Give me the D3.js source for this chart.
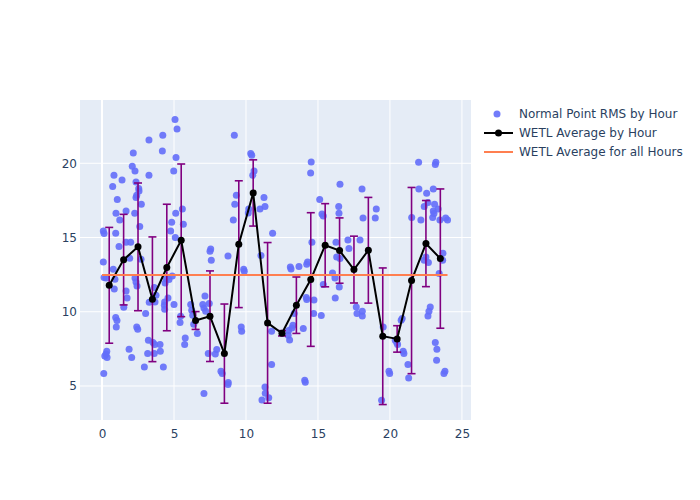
<!DOCTYPE html>
<html>
<head>
<meta charset="utf-8">
<script src="https://cdn.jsdelivr.net/npm/d3@7"></script>
<style>
  body { margin: 0; background: #fff; }
  text { font-family: "DejaVu Sans", Verdana, Arial, sans-serif; }
</style>
</head>
<body>
<div id="chart"></div>
<script>
// Normal point RMS, one entry per pass (hour of day, value)
var rmsHour = [
  0.09,0.14,0.83,0.74,0.97,0.95,0.09,0.78,0.14,0.28,0.90,0.85,0.95,0.99,0.33,0.28,0.19,0.35,0.12,
  1.06,1.39,1.23,1.67,1.18,1.67,1.99,1.92,1.67,1.74,1.51,1.04,1.88,
  2.17,2.10,2.29,2.36,2.55,2.57,2.41,2.36,2.73,2.27,2.62,2.71,2.29,2.36,2.43,2.41,2.48,2.06,2.94,
  3.26,3.26,3.03,3.22,3.54,3.66,3.17,3.63,3.28,3.68,3.63,3.75,
  4.22,4.19,4.84,4.77,4.03,4.05,4.26,4.47,4.38,4.65,4.88,4.58,4.35,4.33,4.35,5.00,4.98,
  5.07,5.21,5.14,5.12,5.09,5.58,5.65,5.42,5.78,5.74,5.46,
  6.16,6.23,6.30,6.37,6.62,
  7.15,7.08,7.20,7.45,7.00,7.38,7.08,7.59,7.55,7.50,7.97,7.87,
  8.26,8.35,8.77,8.75,8.75,
  9.19,9.33,9.22,9.12,9.84,9.88,9.67,9.70,
  10.33,10.40,10.56,10.47,10.19,10.16,10.97,
  11.25,11.32,11.04,11.85,11.78,11.78,11.32,11.34,11.58,11.11,
  12.93,12.96,
  13.08,13.13,13.68,13.19,13.26,13.03,13.98,13.35,
  14.28,14.22,14.53,14.49,14.19,14.22,14.72,14.70,14.08,14.12,14.58,
  15.12,15.28,15.37,15.37,15.23,
  16.53,16.44,16.46,16.25,16.30,16.53,16.01,16.18,16.48,16.20,
  17.08,17.15,17.92,17.66,17.71,
  18.06,18.13,18.98,18.08,18.08,
  19.05,19.53,19.93,19.98,19.42,
  20.37,20.47,20.53,20.85,20.78,20.92,20.97,
  21.25,21.30,21.51,21.99,
  22.01,22.15,22.55,22.38,22.64,22.38,22.67,22.50,22.80,22.71,22.64,22.97,
  23.19,23.15,23.01,23.10,23.01,23.06,23.35,23.47,23.87,24.00,23.68,23.66,23.42,23.15,23.26,23.24,23.82,23.75
];
var rmsValue = [
  15.44,15.27,19.19,18.43,16.63,15.29,13.35,12.86,12.30,12.28,12.19,11.54,9.61,8.98,7.34,7.16,7.02,6.92,5.84,
  17.56,18.88,16.18,16.79,14.39,14.68,14.68,13.60,11.40,10.93,10.30,9.41,7.47,
  20.69,19.80,19.48,18.74,18.30,18.13,17.85,17.69,17.24,16.63,15.74,13.54,12.28,12.01,11.74,8.98,8.82,6.92,6.28,
  21.57,19.19,9.88,8.08,7.93,7.79,7.19,7.19,10.64,10.66,11.63,11.11,
  21.89,20.83,16.03,15.44,7.79,7.34,6.28,12.21,11.94,12.17,12.41,10.93,10.66,10.44,10.17,10.48,19.48,
  22.94,22.31,20.38,16.63,15.00,16.92,15.89,9.27,8.24,7.79,9.70,
  10.48,10.10,9.76,9.16,8.53,
  11.06,10.26,10.03,10.55,10.48,7.19,4.49,13.47,14.23,14.07,7.45,7.16,
  5.99,5.84,5.23,5.10,13.76,
  21.89,17.85,17.24,16.18,12.86,12.73,8.98,8.69,
  20.65,20.54,19.48,19.19,16.92,16.65,16.92,
  17.69,17.08,13.78,15.29,8.69,6.44,4.94,4.51,4.20,4.06,
  8.42,8.73,
  13.02,12.88,13.04,8.91,9.09,8.10,8.87,9.88,
  13.35,13.20,20.09,19.35,10.96,10.82,10.79,9.88,5.39,5.25,14.68,
  17.56,16.59,16.45,11.83,9.74,
  18.59,17.08,16.63,14.68,13.69,13.58,12.61,12.28,11.67,10.93,
  14.83,14.26,14.83,10.32,9.88,
  18.27,16.32,16.32,10.03,9.72,
  16.92,8.98,5.99,5.84,4.04,
  8.08,7.93,7.79,9.54,9.43,7.34,7.19,
  6.44,5.54,16.34,20.07,
  18.27,16.18,17.98,17.08,17.35,13.47,13.31,13.69,10.32,10.03,9.72,16.34,
  20.07,19.91,18.27,17.24,16.79,16.61,16.92,16.18,16.32,16.18,13.94,13.47,12.57,7.93,7.47,6.73,5.99,5.84
];

// WETL average by hour with its spread
var avgHour = [0.5,1.5,2.5,3.5,4.5,5.5,6.5,7.5,8.5,9.5,10.5,11.5,12.5,13.5,14.5,15.5,16.5,17.5,18.5,19.5,20.5,21.5,22.5,23.5];
var avgValue = [11.78,13.51,14.37,10.84,12.98,14.81,9.41,9.70,7.18,14.55,18.00,9.25,8.55,10.44,12.17,14.48,14.12,12.84,14.14,8.35,8.17,12.10,14.59,13.58];
var avgStd = [3.90,3.05,4.30,4.20,4.26,5.14,0.60,3.05,3.34,4.27,2.23,5.41,0.18,1.90,4.50,2.80,2.20,2.25,3.56,4.60,0.89,6.27,2.90,4.69];

// average for all hours
var allHours = [0, 24];
var allAvg = 12.48;

var xTicks = [0, 5, 10, 15, 20, 25];
var yTicks = [5, 10, 15, 20];
var legendNames = ["Normal Point RMS by Hour", "WETL Average by Hour", "WETL Average for all Hours"];

var W = 700, H = 500;
var plot = {left: 80, right: 471, top: 100, bottom: 420};

var svg = d3.select("#chart").append("svg")
  .attr("width", W)
  .attr("height", H);

svg.append("rect").attr("width", W).attr("height", H).attr("fill", "#fff");

var x = d3.scaleLinear().domain([-1.53, 25.63]).range([plot.left, plot.right]);
var y = d3.scaleLinear().domain([2.71, 24.26]).range([plot.bottom, plot.top]);

svg.append("rect")
  .attr("x", plot.left).attr("y", plot.top)
  .attr("width", plot.right - plot.left)
  .attr("height", plot.bottom - plot.top)
  .attr("fill", "#e5ecf6");

// grid
svg.append("g").selectAll("line").data(xTicks).enter().append("line")
  .attr("x1", d => x(d)).attr("x2", d => x(d))
  .attr("y1", plot.top).attr("y2", plot.bottom)
  .attr("stroke", "#fff")
  .attr("stroke-width", d => d == 0 ? 2 : 1);

svg.append("g").selectAll("line").data(yTicks).enter().append("line")
  .attr("x1", plot.left).attr("x2", plot.right)
  .attr("y1", d => y(d)).attr("y2", d => y(d))
  .attr("stroke", "#fff")
  .attr("stroke-width", 1);

// axes, labels only
var xAxis = svg.append("g")
  .attr("transform", "translate(0," + plot.bottom + ")")
  .call(d3.axisBottom(x).tickValues(xTicks).tickSize(0).tickPadding(9));
var yAxis = svg.append("g")
  .attr("transform", "translate(" + plot.left + ",0)")
  .call(d3.axisLeft(y).tickValues(yTicks).tickSize(0).tickPadding(3));
[xAxis, yAxis].forEach(function(a) {
  a.select(".domain").remove();
  a.selectAll("text").attr("fill", "#2a3f5f").attr("font-size", 12)
    .attr("font-family", "'DejaVu Sans', Verdana, sans-serif");
});

var clip = svg.append("clipPath").attr("id", "clip").append("rect")
  .attr("x", plot.left).attr("y", plot.top)
  .attr("width", plot.right - plot.left).attr("height", plot.bottom - plot.top);

var g = svg.append("g").attr("clip-path", "url(#clip)");

// scatter of normal point RMS
g.append("g").selectAll("circle")
  .data(rmsHour.map((h, i) => [h, rmsValue[i]]))
  .enter().append("circle")
  .attr("cx", d => x(d[0]))
  .attr("cy", d => y(d[1]))
  .attr("r", 3.5)
  .attr("fill", "#636efa")
  .attr("opacity", 0.9);

// error bars
var avg = avgHour.map((h, i) => ({h: h, v: avgValue[i], s: avgStd[i]}));
var eb = g.append("g").attr("stroke", "#800080").attr("stroke-width", 1.6);
eb.selectAll(".stem").data(avg).enter().append("line")
  .attr("x1", d => x(d.h)).attr("x2", d => x(d.h))
  .attr("y1", d => y(d.v - d.s)).attr("y2", d => y(d.v + d.s));
eb.selectAll(".capTop").data(avg).enter().append("line")
  .attr("x1", d => x(d.h) - 4).attr("x2", d => x(d.h) + 4)
  .attr("y1", d => y(d.v + d.s)).attr("y2", d => y(d.v + d.s));
eb.selectAll(".capBot").data(avg).enter().append("line")
  .attr("x1", d => x(d.h) - 4).attr("x2", d => x(d.h) + 4)
  .attr("y1", d => y(d.v - d.s)).attr("y2", d => y(d.v - d.s));

// hourly average line
var line = d3.line().x(d => x(d.h)).y(d => y(d.v));
g.append("path").datum(avg)
  .attr("d", line)
  .attr("fill", "none")
  .attr("stroke", "#000")
  .attr("stroke-width", 2);
g.append("g").selectAll("circle").data(avg).enter().append("circle")
  .attr("cx", d => x(d.h)).attr("cy", d => y(d.v))
  .attr("r", 3.5).attr("fill", "#000");

// overall average
g.append("line")
  .attr("x1", x(allHours[0])).attr("x2", x(allHours[1]))
  .attr("y1", y(allAvg)).attr("y2", y(allAvg))
  .attr("stroke", "#ff7f50")
  .attr("stroke-width", 2);

// legend
var leg = svg.append("g").attr("transform", "translate(484,0)");
var rows = [114, 133, 152];
leg.append("circle").attr("cx", 13).attr("cy", rows[0]).attr("r", 3.5).attr("fill", "#636efa").attr("opacity", 0.9);
leg.append("line").attr("x1", 0).attr("x2", 29).attr("y1", rows[1]).attr("y2", rows[1])
  .attr("stroke", "#000").attr("stroke-width", 2);
leg.append("circle").attr("cx", 14.5).attr("cy", rows[1]).attr("r", 3.5).attr("fill", "#000");
leg.append("line").attr("x1", 0).attr("x2", 29).attr("y1", rows[2]).attr("y2", rows[2])
  .attr("stroke", "#ff7f50").attr("stroke-width", 2);
leg.selectAll("text.lbl").data(legendNames).enter().append("text")
  .attr("x", 35)
  .attr("y", (d, i) => rows[i])
  .attr("dy", "0.35em")
  .attr("font-size", 12)
  .attr("fill", "#2a3f5f")
  .text(d => d);
</script>
</body>
</html>
